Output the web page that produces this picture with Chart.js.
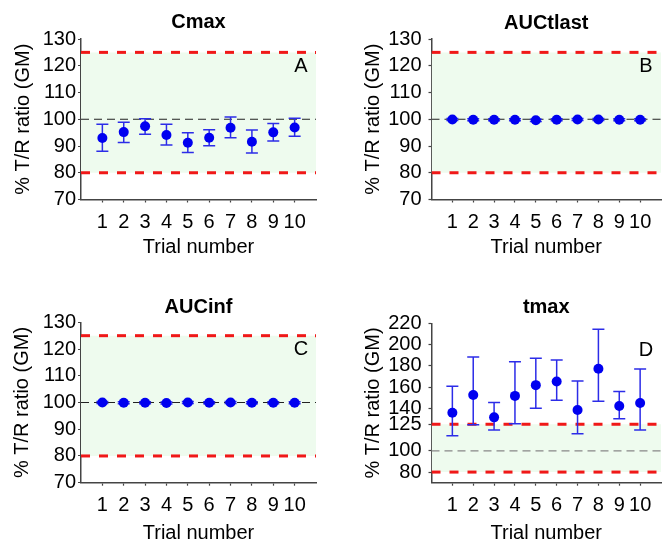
<!DOCTYPE html>
<html>
<head>
<meta charset="utf-8">
<title>T/R ratio by trial</title>
<script src="https://cdn.jsdelivr.net/npm/chart.js@4.4.0/dist/chart.umd.min.js"></script>
<style>
  html, body { margin: 0; padding: 0; background: #fff; }
  body { position: relative; width: 665px; height: 540px; overflow: hidden; }
  canvas { position: absolute; }
</style>
</head>
<body>
<canvas id="chartA" width="330" height="270" style="left:0;top:0"></canvas>
<canvas id="chartB" width="336" height="270" style="left:330px;top:0"></canvas>
<canvas id="chartC" width="330" height="275" style="left:0;top:270px"></canvas>
<canvas id="chartD" width="336" height="275" style="left:330px;top:270px"></canvas>
<script>
// trial numbers on the x axis
const trials = [1, 2, 3, 4, 5, 6, 7, 8, 9, 10];

// Cmax: geometric mean ratio with 90% CI
const cmaxGM   = [93.0, 95.2, 97.4, 94.1, 91.2, 93.1, 96.8, 91.6, 95.1, 96.9];
const cmaxLow  = [88.0, 91.3, 94.4, 90.4, 87.6, 90.1, 93.1, 87.4, 91.9, 93.6];
const cmaxHigh = [98.1, 98.9, 100.2, 98.1, 95.0, 96.1, 100.8, 96.0, 98.4, 100.4];

// AUCtlast
const auctlastGM   = [99.9, 99.8, 99.8, 99.8, 99.6, 99.8, 99.9, 99.9, 99.8, 99.8];
const auctlastLow  = [99.5, 99.4, 99.4, 99.4, 99.2, 99.4, 99.5, 99.5, 99.4, 99.4];
const auctlastHigh = [100.3, 100.2, 100.2, 100.2, 100.0, 100.2, 100.3, 100.3, 100.2, 100.2];

// AUCinf
const aucinfGM   = [100.0, 99.9, 99.9, 99.8, 100.0, 99.9, 100.0, 99.9, 99.9, 99.9];
const aucinfLow  = [99.6, 99.5, 99.5, 99.4, 99.6, 99.5, 99.6, 99.5, 99.5, 99.5];
const aucinfHigh = [100.4, 100.3, 100.3, 100.2, 100.4, 100.3, 100.4, 100.3, 100.3, 100.3];

// tmax
const tmaxGM   = [135.9, 152.6, 131.5, 151.7, 161.8, 165.2, 138.4, 177.2, 142.2, 145.0];
const tmaxLow  = [114.1, 124.5, 119.5, 125.5, 140.0, 147.6, 116.0, 146.6, 130.2, 119.5];
const tmaxHigh = [160.8, 188.3, 145.4, 183.9, 187.0, 185.4, 165.6, 214.4, 155.8, 176.9];

// bioequivalence limits and reference ratio
const beLower = 80;
const beUpper = 125;
const refRatio = 100;

// tick labels
const ratioTicks = [70, 80, 90, 100, 110, 120, 130];
const tmaxTicks = [80, 100, 125, 140, 160, 180, 200, 220];

Chart.defaults.font.family = "'Liberation Sans', Arial, sans-serif";
Chart.defaults.font.size = 20;
Chart.defaults.color = '#000';

const panels = [
  { id: 'chartA', title: 'Cmax', tag: 'A', gm: cmaxGM, low: cmaxLow, high: cmaxHigh,
    yTicks: ratioTicks, yMax: 130, refColor: '#222',
    w: 330, h: 270, area: { left: 81, top: 39, right: 316, bottom: 199.5 },
    titleTop: 10.5, yTitlePad: 11.5, yTickPad: 2, xTitlePad: 10.5 },
  { id: 'chartB', title: 'AUCtlast', tag: 'B', gm: auctlastGM, low: auctlastLow, high: auctlastHigh,
    yTicks: ratioTicks, yMax: 130, refColor: '#222',
    w: 336, h: 270, area: { left: 101.5, top: 39, right: 336, bottom: 199.5 },
    titleTop: 11, yTitlePad: 31.5, yTickPad: 7, xTitlePad: 10.5 },
  { id: 'chartC', title: 'AUCinf', tag: 'C', gm: aucinfGM, low: aucinfLow, high: aucinfHigh,
    yTicks: ratioTicks, yMax: 130, refColor: '#222',
    w: 330, h: 275, area: { left: 81, top: 52.3, right: 316, bottom: 212.7 },
    titleTop: 25.5, yTitlePad: 10.5, yTickPad: 2, xTitlePad: 0 },
  { id: 'chartD', title: 'tmax', tag: 'D', gm: tmaxGM, low: tmaxLow, high: tmaxHigh,
    yTicks: tmaxTicks, yMax: 220, refColor: '#888',
    w: 336, h: 275, area: { left: 101.5, top: 53.3, right: 336, bottom: 212.7 },
    titleTop: 25.5, yTitlePad: 31.5, yTickPad: 7, xTitlePad: 0 }
];

// whiskers for the confidence intervals, drawn just before the points
const errorBars = {
  id: 'errorBars',
  beforeDatasetDraw(chart, args, opts) {
    if (args.index !== 0) return;
    const { ctx, scales: { x, y } } = chart;
    ctx.save();
    ctx.strokeStyle = opts.color;
    ctx.lineWidth = 1.5;
    trials.forEach((t, i) => {
      const px = x.getPixelForValue(t);
      const y1 = y.getPixelForValue(opts.low[i]);
      const y2 = y.getPixelForValue(opts.high[i]);
      ctx.beginPath();
      ctx.moveTo(px, y1); ctx.lineTo(px, y2);
      ctx.moveTo(px - opts.cap, y1); ctx.lineTo(px + opts.cap, y1);
      ctx.moveTo(px - opts.cap, y2); ctx.lineTo(px + opts.cap, y2);
      ctx.stroke();
    });
    ctx.restore();
  }
};

// panel letter in the top right corner
const panelTag = {
  id: 'panelTag',
  afterDraw(chart, args, opts) {
    const { ctx, chartArea } = chart;
    ctx.save();
    ctx.font = "20px 'Liberation Sans', Arial, sans-serif";
    ctx.fillStyle = '#000';
    ctx.textAlign = 'center';
    ctx.textBaseline = 'middle';
    ctx.fillText(opts.text, chartArea.right - 15, chartArea.top + 27);
    ctx.restore();
  }
};

function hLine(value) {
  return [{ x: 0, y: value }, { x: 11, y: value }];
}

panels.forEach(p => {
  new Chart(document.getElementById(p.id), {
    type: 'scatter',
    data: {
      datasets: [
        {
          data: trials.map((t, i) => ({ x: t, y: p.gm[i] })),
          backgroundColor: '#0000f0',
          borderWidth: 0,
          pointRadius: 5
        },
        {
          data: hLine(refRatio),
          showLine: true,
          borderColor: p.refColor,
          borderWidth: 1.2,
          borderDash: [8, 5],
          pointRadius: 0
        },
        {
          data: hLine(beLower),
          showLine: true,
          borderColor: '#f01818',
          borderWidth: 3,
          borderDash: [9, 9],
          pointRadius: 0
        },
        {
          data: hLine(beUpper),
          showLine: true,
          borderColor: '#f01818',
          borderWidth: 3,
          borderDash: [9, 9],
          pointRadius: 0,
          fill: { value: beLower },
          backgroundColor: 'rgb(238, 251, 238)'
        }
      ]
    },
    options: {
      responsive: false,
      animation: false,
      events: [],
      layout: { padding: { left: 0, top: 0, bottom: 0, right: p.w - p.area.right } },
      plugins: {
        legend: { display: false },
        tooltip: { enabled: false },
        title: {
          display: true,
          text: p.title,
          fullSize: false,
          color: '#000',
          font: { size: 20, weight: 'bold' },
          padding: { top: p.titleTop, bottom: p.area.top - 24 - p.titleTop }
        },
        errorBars: { low: p.low, high: p.high, color: '#2c2ce8', cap: 6 },
        panelTag: { text: p.tag }
      },
      scales: {
        x: {
          type: 'linear',
          min: 0,
          max: 11,
          afterBuildTicks: s => { s.ticks = trials.map(v => ({ value: v })); },
          afterFit: s => { s.height = p.h - p.area.bottom; },
          ticks: { autoSkip: false, maxRotation: 0, padding: 7.5, color: '#000' },
          grid: { drawOnChartArea: false, tickLength: 3, tickColor: '#444', tickWidth: 1.2 },
          border: { display: true, color: '#444', width: 1.5 },
          title: { display: true, text: 'Trial number', color: '#000', font: { size: 20 },
                   padding: { top: 0, bottom: p.xTitlePad } }
        },
        y: {
          type: 'linear',
          min: 70,
          max: p.yMax,
          afterBuildTicks: s => { s.ticks = p.yTicks.map(v => ({ value: v })); },
          afterFit: s => { s.width = p.area.left; },
          ticks: { autoSkip: false, padding: p.yTickPad, color: '#000' },
          grid: { drawOnChartArea: false, tickLength: 3, tickColor: '#444', tickWidth: 1.2 },
          border: { display: true, color: '#444', width: 1.5 },
          title: { display: true, text: '% T/R ratio (GM)', color: '#000', font: { size: 20 },
                   padding: { top: p.yTitlePad, bottom: 0 } }
        }
      }
    },
    plugins: [errorBars, panelTag]
  });
});
</script>
</body>
</html>
